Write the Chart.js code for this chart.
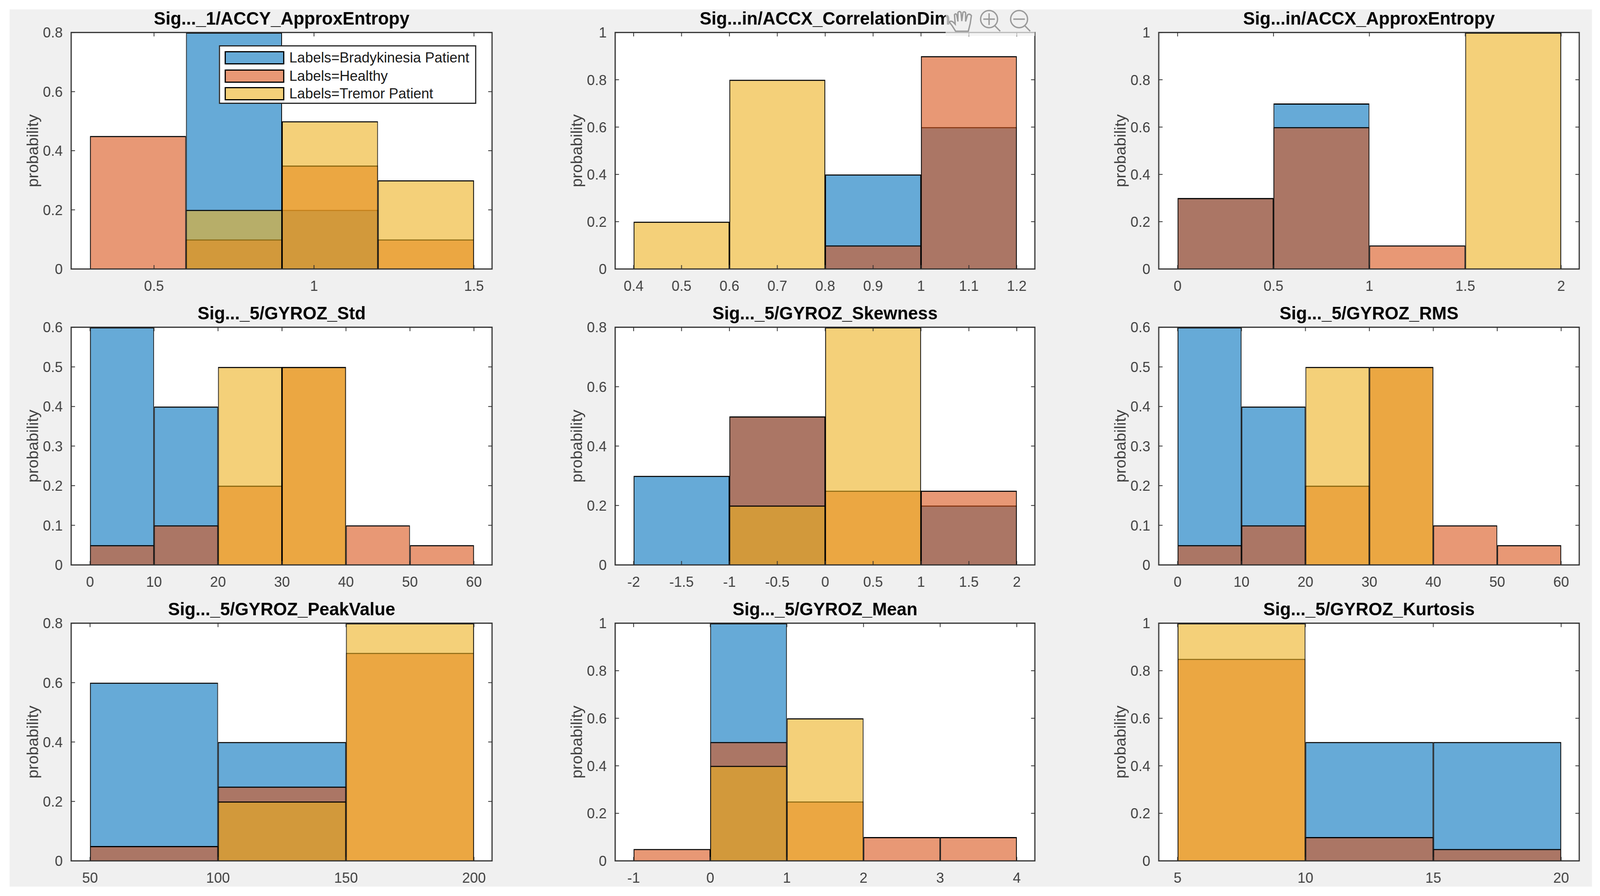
<!DOCTYPE html>
<html>
<head>
<meta charset="utf-8">
<script src="https://cdn.jsdelivr.net/npm/chart.js@4/dist/chart.umd.min.js"></script>
<style>
  html, body { margin: 0; padding: 0; background: #fff; overflow: hidden; }
  #page { position: relative; width: 4159px; height: 2295px; overflow: hidden; transform-origin: 0 0; }
  #panel { position: absolute; left: 25px; top: 24px; width: 4113px; height: 2247px; background: #f0f0f0; }
  canvas { position: absolute; }
  #legend {
    position: absolute; left: 569px; top: 116px; width: 669px; height: 150px; box-sizing: border-box;
    background: #fff; border: 3px solid #262626;
    font-family: "Liberation Sans", Arial, sans-serif; font-size: 37px; color: #1a1a1a;
  }
  .row { position: absolute; left: 12px; white-space: nowrap; }
  .swatch { position: absolute; left: 0; top: 0; width: 155px; height: 34px; box-sizing: border-box; border: 3px solid #000; }
  .row span { position: absolute; left: 168px; top: -2px; line-height: 38px; }
  #toolbar { position: absolute; left: 0; top: 0; }
</style>
</head>
<body>
<div id="page">
  <div id="panel"></div>
  <div id="legend"></div>
  <svg id="toolbar" width="4159" height="2295" fill="none" stroke="#9a9a9a" stroke-width="3.5">
    <rect x="2458" y="24" width="232" height="68" fill="#f0f0f0" fill-opacity="0.72" stroke="none"/>
    <path d="M2484 80 L2475 66 L2468 57 Q2470 52 2477 56 L2483 62 L2481 38 Q2484 33 2487 38 L2490 55 L2490 32 Q2494 27 2498 32 L2500 54 L2503 32 Q2507 28 2510 33 L2510 55 L2515 38 Q2520 34 2525 40 L2522 60 L2517 80 Z"/>
    <circle cx="2571" cy="49" r="22"/>
    <path d="M2556 49 H2586 M2571 34 V64 M2586 66 L2600 80"/>
    <circle cx="2649" cy="49" r="22"/>
    <path d="M2634 49 H2664 M2664 66 L2678 80"/>
  </svg>
</div>
<script>
// Nine overlaid probability histograms, one chart per feature.

// The browser caps its window at 4096 wide, so squeeze the 4159 wide layout to fit.
document.getElementById('page').style.transform = `scaleX(${Math.min(1, window.innerWidth / 4159)})`;

const seriesNames = ['Labels=Bradykinesia Patient', 'Labels=Healthy', 'Labels=Tremor Patient'];
const faceColors = ['rgba(0, 114, 189, .6)', 'rgba(217, 83, 25, .6)', 'rgba(237, 177, 32, .6)'];

// --- Data (bin edges, then bar heights for blue / healthy / tremor) ----------

const titles = [
  'Sig..._1/ACCY_ApproxEntropy', 'Sig...in/ACCX_CorrelationDim', 'Sig...in/ACCX_ApproxEntropy',
  'Sig..._5/GYROZ_Std', 'Sig..._5/GYROZ_Skewness', 'Sig..._5/GYROZ_RMS',
  'Sig..._5/GYROZ_PeakValue', 'Sig..._5/GYROZ_Mean', 'Sig..._5/GYROZ_Kurtosis',
];

const accyEdges = [0.3, 0.6, 0.9, 1.2, 1.5];
const accyBlue = [0, 0.8, 0.2, 0];
const accyHealthy = [0.45, 0.1, 0.35, 0.1];
const accyTremor = [0, 0.2, 0.5, 0.3];
const accyXTicks = [0.5, 1, 1.5];
const accyYTicks = [0, 0.2, 0.4, 0.6, 0.8];
const accyXLim = [0.2411, 1.5565];

const corrEdges = [0.4, 0.6, 0.8, 1, 1.2];
const corrBlue = [0, 0, 0.4, 0.6];
const corrHealthy = [0, 0, 0.1, 0.9];
const corrTremor = [0.2, 0.8, 0, 0];
const corrXTicks = [0.4, 0.5, 0.6, 0.7, 0.8, 0.9, 1, 1.1, 1.2];
const corrYTicks = [0, 0.2, 0.4, 0.6, 0.8, 1];
const corrXLim = [0.3614, 1.2378];

const accxEdges = [0, 0.5, 1, 1.5, 2];
const accxBlue = [0.3, 0.7, 0, 0];
const accxHealthy = [0.3, 0.6, 0.1, 0];
const accxTremor = [0, 0, 0, 1];
const accxXTicks = [0, 0.5, 1, 1.5, 2];
const accxYTicks = [0, 0.2, 0.4, 0.6, 0.8, 1];
const accxXLim = [-0.0983, 2.0943];

const stdEdges = [0, 10, 20, 30, 40, 50, 60];
const stdBlue = [0.6, 0.4, 0, 0, 0, 0];
const stdHealthy = [0.05, 0.1, 0.2, 0.5, 0.1, 0.05];
const stdTremor = [0, 0, 0.5, 0.5, 0, 0];
const stdXTicks = [0, 10, 20, 30, 40, 50, 60];
const stdYTicks = [0, 0.1, 0.2, 0.3, 0.4, 0.5, 0.6];
const stdXLim = [-2.95, 62.83];

const skewEdges = [-2, -1, 0, 1, 2];
const skewBlue = [0.3, 0.5, 0, 0.2];
const skewHealthy = [0, 0.5, 0.25, 0.25];
const skewTremor = [0, 0.2, 0.8, 0];
const skewXTicks = [-2, -1.5, -1, -0.5, 0, 0.5, 1, 1.5, 2];
const skewYTicks = [0, 0.2, 0.4, 0.6, 0.8];
const skewXLim = [-2.193, 2.189];

const rmsEdges = [0, 10, 20, 30, 40, 50, 60];
const rmsBlue = [0.6, 0.4, 0, 0, 0, 0];
const rmsHealthy = [0.05, 0.1, 0.2, 0.5, 0.1, 0.05];
const rmsTremor = [0, 0, 0.5, 0.5, 0, 0];
const rmsXTicks = [0, 10, 20, 30, 40, 50, 60];
const rmsYTicks = [0, 0.1, 0.2, 0.3, 0.4, 0.5, 0.6];
const rmsXLim = [-2.95, 62.83];

const peakEdges = [50, 100, 150, 200];
const peakBlue = [0.6, 0.4, 0];
const peakHealthy = [0.05, 0.25, 0.7];
const peakTremor = [0, 0.2, 0.8];
const peakXTicks = [50, 100, 150, 200];
const peakYTicks = [0, 0.2, 0.4, 0.6, 0.8];
const peakXLim = [42.63, 207.06];

const meanEdges = [-1, 0, 1, 2, 3, 4];
const meanBlue = [0, 1, 0, 0, 0];
const meanHealthy = [0.05, 0.5, 0.25, 0.1, 0.1];
const meanTremor = [0, 0.4, 0.6, 0, 0];
const meanXTicks = [-1, 0, 1, 2, 3, 4];
const meanYTicks = [0, 0.2, 0.4, 0.6, 0.8, 1];
const meanXLim = [-1.241, 4.236];

const kurtEdges = [5, 10, 15, 20];
const kurtBlue = [0, 0.5, 0.5];
const kurtHealthy = [0.85, 0.1, 0.05];
const kurtTremor = [1, 0, 0];
const kurtXTicks = [5, 10, 15, 20];
const kurtYTicks = [0, 0.2, 0.4, 0.6, 0.8, 1];
const kurtXLim = [4.263, 20.707];

const panels = [
  [accyEdges, [accyBlue, accyHealthy, accyTremor], accyXTicks, accyYTicks, accyXLim],
  [corrEdges, [corrBlue, corrHealthy, corrTremor], corrXTicks, corrYTicks, corrXLim],
  [accxEdges, [accxBlue, accxHealthy, accxTremor], accxXTicks, accxYTicks, accxXLim],
  [stdEdges, [stdBlue, stdHealthy, stdTremor], stdXTicks, stdYTicks, stdXLim],
  [skewEdges, [skewBlue, skewHealthy, skewTremor], skewXTicks, skewYTicks, skewXLim],
  [rmsEdges, [rmsBlue, rmsHealthy, rmsTremor], rmsXTicks, rmsYTicks, rmsXLim],
  [peakEdges, [peakBlue, peakHealthy, peakTremor], peakXTicks, peakYTicks, peakXLim],
  [meanEdges, [meanBlue, meanHealthy, meanTremor], meanXTicks, meanYTicks, meanXLim],
  [kurtEdges, [kurtBlue, kurtHealthy, kurtTremor], kurtXTicks, kurtYTicks, kurtXLim],
];

// --- Layout: plot boxes in page pixels ---------------------------------------

const columns = [[185, 1279], [1599, 2690], [3012, 4105]];
const rows = [[83, 689], [838, 1447], [1596, 2205]];
const LEFT_ROOM = 130;
const RIGHT_ROOM = 30;
const TITLE_ROOM = 60;
const BOTTOM_ROOM = 64;

const FONT = '"Liberation Sans", Arial, sans-serif';
const INK = '#404040';
const FRAME = '#2e2e2e';
const TICK_LEN = 10;

// MATLAB style box: dark frame with inward ticks on all four sides, above the bars.
const boxAxes = {
  id: 'boxAxes',
  beforeDatasetsDraw(chart) {
    const { ctx, chartArea: a } = chart;
    ctx.save();
    ctx.fillStyle = '#fff';
    ctx.fillRect(a.left, a.top, a.width, a.height);
    ctx.restore();
  },
  afterDatasetsDraw(chart) {
    const { ctx, chartArea: a, scales } = chart;
    ctx.save();
    ctx.strokeStyle = FRAME;
    ctx.lineWidth = 2;
    ctx.beginPath();
    for (const t of scales.x.ticks) {
      const x = scales.x.getPixelForValue(t.value);
      ctx.moveTo(x, a.top); ctx.lineTo(x, a.top + TICK_LEN);
      ctx.moveTo(x, a.bottom); ctx.lineTo(x, a.bottom - TICK_LEN);
    }
    for (const t of scales.y.ticks) {
      const y = scales.y.getPixelForValue(t.value);
      ctx.moveTo(a.left, y); ctx.lineTo(a.left + TICK_LEN, y);
      ctx.moveTo(a.right, y); ctx.lineTo(a.right - TICK_LEN, y);
    }
    ctx.stroke();
    ctx.lineWidth = 3;
    ctx.strokeRect(a.left, a.top, a.width, a.height);
    ctx.restore();
  },
};

function makeDataset(edges, values, s) {
  return {
    label: seriesNames[s],
    // empty bins stay as null so 'flex' widths still see every bin centre
    data: values.map((v, i) => ({ x: (edges[i] + edges[i + 1]) / 2, y: v > 0 ? v : null })),
    order: 3 - s, // tremor ends up on top, as in the source figure
    stack: 'all', // one slot per bin, so the three series overlap
    backgroundColor: faceColors[s],
    borderColor: '#000',
    borderWidth: { top: 3, left: 2, right: 2, bottom: 0 },
    inflateAmount: 0,
    barThickness: 'flex',
    barPercentage: 1,
    categoryPercentage: 1,
  };
}

function renderPanel(panel, i) {
  const [edges, series, xTicks, yTicks, xLim] = panel;
  const [x0, x1] = columns[i % 3];
  const [y0, y1] = rows[Math.floor(i / 3)];

  const canvas = document.createElement('canvas');
  canvas.width = x1 - x0 + LEFT_ROOM + RIGHT_ROOM;
  canvas.height = y1 - y0 + TITLE_ROOM + BOTTOM_ROOM;
  canvas.style.left = (x0 - LEFT_ROOM) + 'px';
  canvas.style.top = (y0 - TITLE_ROOM) + 'px';
  document.getElementById('page').insertBefore(canvas, document.getElementById('legend'));

  return new Chart(canvas, {
    type: 'bar',
    data: { datasets: series.map((values, s) => makeDataset(edges, values, s)) },
    plugins: [boxAxes],
    options: {
      responsive: false,
      animation: false,
      devicePixelRatio: 1,
      events: [],
      layout: { padding: { right: RIGHT_ROOM } },
      plugins: {
        legend: { display: false },
        tooltip: { enabled: false },
        title: {
          display: true,
          fullSize: false,
          text: titles[i],
          color: '#000',
          font: { family: FONT, size: 46, weight: 'bold', lineHeight: 1.2 },
          padding: { top: 0, bottom: 5 },
        },
      },
      scales: {
        x: {
          type: 'linear',
          offset: false,
          min: xLim[0],
          max: xLim[1],
          grid: { display: false },
          border: { display: false },
          afterBuildTicks: s => { s.ticks = xTicks.map(value => ({ value })); },
          afterFit: s => { s.height = BOTTOM_ROOM; },
          ticks: {
            color: INK,
            padding: 16,
            maxRotation: 0,
            autoSkip: false,
            font: { family: FONT, size: 37 },
            callback: v => String(v),
          },
        },
        y: {
          stacked: false,
          min: yTicks[0],
          max: yTicks[yTicks.length - 1],
          grid: { display: false },
          border: { display: false },
          afterBuildTicks: s => { s.ticks = yTicks.map(value => ({ value })); },
          afterFit: s => { s.width = LEFT_ROOM; },
          title: {
            display: true,
            text: 'probability',
            color: INK,
            font: { family: FONT, size: 41, lineHeight: 1.2 },
            padding: { top: 8, bottom: 0 },
          },
          ticks: {
            color: INK,
            padding: 14,
            autoSkip: false,
            labelOffset: 3,
            font: { family: FONT, size: 37 },
            callback: v => String(v),
          },
        },
      },
    },
  });
}

function buildLegend() {
  const tops = [12, 59, 104];
  const box = document.getElementById('legend');
  seriesNames.forEach((name, s) => {
    const row = document.createElement('div');
    row.className = 'row';
    row.style.top = tops[s] + 'px';
    row.innerHTML = `<div class="swatch" style="background:${faceColors[s]}"></div><span>${name}</span>`;
    box.appendChild(row);
  });
}

panels.forEach(renderPanel);
buildLegend();
</script>
</body>
</html>
